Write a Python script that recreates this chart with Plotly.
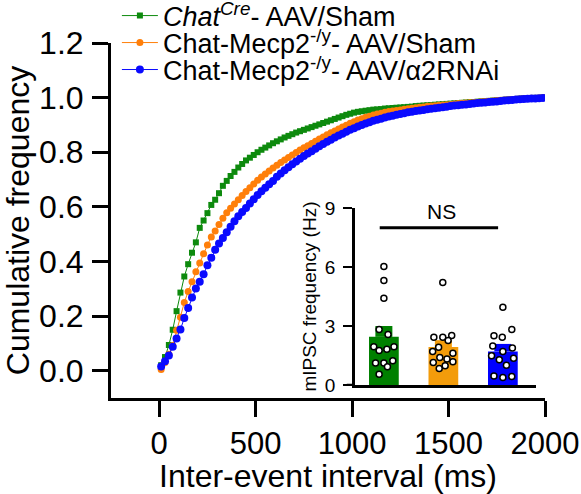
import plotly.graph_objects as go

# ---------------- data ----------------
interval_ms = [10 + 20 * k for k in range(100)]

chat_cre_sham = [
    .020, .050, .094, .150, .218, .286, .345, .390, .432, .470,
    .523, .550, .577, .607, .626, .650, .677, .695, .713, .728,
    .744, .757, .770, .780, .790, .800, .809, .817, .825, .833,
    .840, .847, .854, .860, .866, .872, .877, .882, .887, .892,
    .897, .902, .907, .912, .917, .922, .927, .932, .937, .941,
    .945, .948, .950, .952, .954, .956, .957, .958, .960, .961,
    .962, .963, .964, .965, .966, .967, .969, .970, .971, .972,
    .973, .974, .975, .976, .977, .978, .979, .980, .981, .982,
    .983, .984, .985, .986, .987, .988, .989, .990, .991, .992,
    .993, .994, .995, .996, .997, .997, .998, .999, .999, 1.000]

mecp2_sham = [
    .004, .030, .060, .092, .148, .196, .250, .290, .326, .362,
    .394, .428, .460, .490, .512, .535, .558, .578, .595, .610,
    .626, .642, .656, .670, .684, .697, .709, .720, .731, .742,
    .752, .762, .772, .781, .790, .799, .808, .816, .824, .832,
    .840, .848, .856, .864, .871, .878, .885, .892, .899, .906,
    .912, .918, .923, .928, .932, .936, .940, .943, .946, .949,
    .951, .953, .955, .957, .959, .961, .963, .965, .966, .968,
    .969, .970, .972, .973, .974, .975, .977, .978, .979, .980,
    .981, .982, .983, .985, .986, .987, .988, .989, .990, .991,
    .992, .993, .994, .995, .996, .997, .998, .998, .999, 1.000]

mecp2_rnai = [
    .015, .035, .056, .088, .118, .151, .193, .230, .268, .301,
    .326, .353, .386, .414, .443, .466, .486, .507, .527, .547,
    .566, .581, .596, .612, .628, .643, .657, .670, .683, .695,
    .710, .722, .734, .745, .756, .766, .776, .786, .795, .804,
    .813, .822, .830, .838, .846, .854, .861, .868, .875, .882,
    .888, .894, .900, .905, .910, .915, .919, .923, .927, .931,
    .934, .937, .940, .943, .946, .948, .951, .953, .955, .957,
    .959, .961, .963, .965, .967, .969, .971, .972, .974, .975,
    .977, .978, .980, .981, .982, .984, .985, .986, .988, .989,
    .990, .991, .993, .994, .995, .996, .997, .997, .998, .999]

series_names = [
    "<i>Chat</i><sup><i>Cre</i></sup>- AAV/Sham",
    "Chat-Mecp2<sup>-/y</sup>- AAV/Sham",
    "Chat-Mecp2<sup>-/y</sup>- AAV/α2RNAi",
]

x_ticks = [0, 500, 1000, 1500, 2000]
y_ticks = [0.0, 0.2, 0.4, 0.6, 0.8, 1.0, 1.2]
y_ticklabels = ["0.0", "0.2", "0.4", "0.6", "0.8", "1.0", "1.2"]

# inset: mIPSC frequency (Hz)
bar_means = [2.45, 1.93, 1.71]
bar_sems = [0.55, 0.35, 0.38]
cells_green = [6.03, 5.31, 4.41, 2.83, 2.57, 1.95, 1.75, 1.82, 1.95, 1.12, 1.12, 1.23, 0.93, 0.55]
cells_orange = [5.21, 2.43, 2.43, 2.52, 2.26, 1.92, 1.71, 1.61, 1.40, 1.32, 1.15, 1.18, 0.98, 0.84]
cells_blue = [3.96, 2.82, 2.51, 2.43, 1.99, 1.88, 1.70, 1.49, 1.28, 1.36, 1.00, 0.46, 0.38, 0.43]
# horizontal scatter of the dots within each bar (category units)
jit_green = [0.0, 0.0, 0.0, -0.08, 0.07, -0.17, -0.08, 0.05, 0.17, -0.14, 0.0, 0.15, 0.06, -0.08]
jit_orange = [-0.01, -0.16, -0.01, 0.14, 0.08, -0.08, -0.18, 0.16, -0.06, 0.06, -0.17, 0.16, 0.03, -0.07]
jit_blue = [0.0, 0.15, -0.15, -0.01, -0.17, 0.16, 0.0, -0.19, -0.06, 0.18, 0.06, -0.15, 0.0, 0.15]
inset_yticks = [0, 3, 6, 9]

# ---------------- style ----------------
FONT = "Liberation Sans, Arial, sans-serif"
c_green, c_orange, c_blue = "#0d8a0d", "#ff7f0a", "#0a0aff"
bar_colors = ["#008000", "#f39c0b", "#0000ff"]

fig = go.Figure()

curves = [chat_cre_sham, mecp2_sham, mecp2_rnai]
colors = [c_green, c_orange, c_blue]
symbols = ["square", "circle", "circle"]
msizes = [6, 7, 8]
legend_ids = ["legend", "legend2", "legend3"]
for ys, col, sym, ms, nm, lg in zip(curves, colors, symbols, msizes, series_names, legend_ids):
    fig.add_trace(go.Scatter(
        x=interval_ms, y=ys, mode="lines+markers", name=nm, legend=lg,
        line=dict(color=col, width=1),
        marker=dict(symbol=sym, size=ms, color=col, line=dict(width=0)),
        xaxis="x", yaxis="y"))

# inset bars
for i, (m, s, bc) in enumerate(zip(bar_means, bar_sems, bar_colors)):
    fig.add_trace(go.Bar(
        x=[i], y=[m], width=0.5, marker=dict(color=bc, line=dict(width=0)),
        error_y=dict(type="data", array=[s], arrayminus=[0], symmetric=False,
                     color=bc, thickness=17, width=0),
        showlegend=False, xaxis="x2", yaxis="y2"))

for i, (vals, jit) in enumerate(zip([cells_green, cells_orange, cells_blue],
                                    [jit_green, jit_orange, jit_blue])):
    fig.add_trace(go.Scatter(
        x=[i + j for j in jit], y=vals, mode="markers",
        marker=dict(symbol="circle", size=6, color="white",
                    line=dict(color="black", width=1.5)),
        showlegend=False, xaxis="x2", yaxis="y2", cliponaxis=False))

legend_common = dict(x=0.0136, xanchor="left", yanchor="middle",
                     font=dict(size=27, family=FONT, color="black"),
                     bgcolor="rgba(0,0,0,0)", itemwidth=36)

fig.update_layout(
    width=581, height=494,
    margin=dict(l=111, r=36, t=43, b=96, autoexpand=False),
    paper_bgcolor="white", plot_bgcolor="white",
    font=dict(family=FONT, color="black"),
    showlegend=True,
    legend=dict(y=1.076, **legend_common),
    legend2=dict(y=1.0, **legend_common),
    legend3=dict(y=0.924, **legend_common),
    xaxis=dict(range=[-250, 2000], domain=[0, 1], tickvals=x_ticks,
               showline=True, linecolor="black", linewidth=3,
               ticks="outside", ticklen=16, tickwidth=2.5, tickcolor="black",
               tickfont=dict(size=31), ticklabelstandoff=0,
               showgrid=False, zeroline=False,
               title=dict(text="Inter-event interval (ms)", font=dict(size=32), standoff=0)),
    yaxis=dict(range=[-0.1, 1.2], domain=[0, 1], tickvals=y_ticks, ticktext=y_ticklabels,
               showline=True, linecolor="black", linewidth=3,
               ticks="outside", ticklen=16, tickwidth=2.5, tickcolor="black",
               tickfont=dict(size=32), ticklabelstandoff=2,
               showgrid=False, zeroline=False,
               title=dict(text="Cumulative frequency", font=dict(size=32), standoff=4)),
    xaxis2=dict(domain=[0.562, 0.979], anchor="y2", range=[-0.487, 2.555],
                showline=True, linecolor="black", linewidth=2.5,
                showticklabels=False, ticks="", showgrid=False, zeroline=False),
    yaxis2=dict(domain=[0.0366, 0.535], anchor="x2", range=[0, 9], tickvals=inset_yticks,
                showline=True, linecolor="black", linewidth=2.5,
                ticks="outside", ticklen=9, tickwidth=2, tickcolor="black",
                tickfont=dict(size=19), ticklabelstandoff=4,
                showgrid=False, zeroline=False,
                title=dict(text="mIPSC frequency (Hz)", font=dict(size=19), standoff=4)),
    barmode="overlay",
)

# extension of inset baseline left of the y-axis, NS bracket
fig.add_shape(type="line", xref="x2 domain", yref="y2", x0=-0.045, x1=0, y0=0, y1=0,
              line=dict(color="black", width=2.5))
fig.add_shape(type="line", xref="x2", yref="y2", x0=-0.07, x1=1.92, y0=8, y1=8,
              line=dict(color="black", width=3))
fig.add_annotation(x=0.975, y=8.0, xref="x2", yref="y2", text="NS", showarrow=False,
                   yanchor="bottom", yshift=3, font=dict(size=21, family=FONT, color="black"))

fig.write_html("out.html", config={"displayModeBar": False},
               post_script="document.body.style.margin='0px';")
